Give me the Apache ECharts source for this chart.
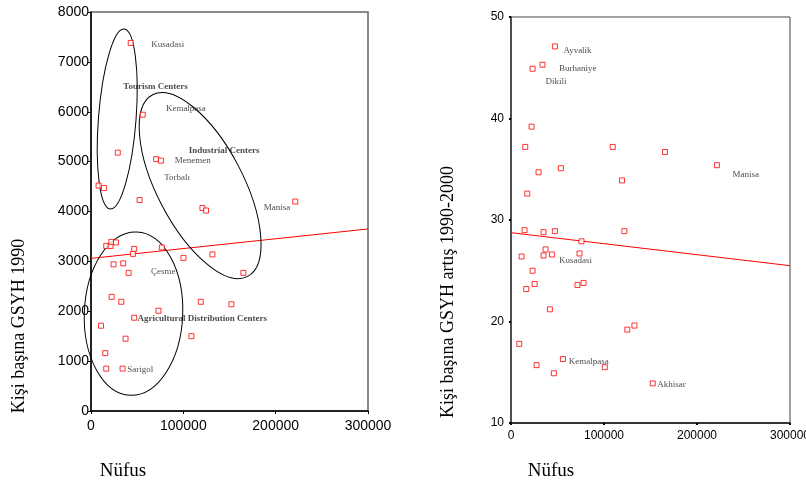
<!DOCTYPE html>
<html><head><meta charset="utf-8">
<script src="https://cdn.jsdelivr.net/npm/echarts@6/dist/echarts.min.js"></script>
<style>html,body{margin:0;padding:0;background:#fff}#c{width:806px;height:485px}</style>
</head><body><div id="c"></div>
<script>
// ---- Left chart: population vs GDP per capita 1990
var leftPop = [43000, 56000, 29000, 70600, 75700, 8200, 14000, 52600, 120700, 124600, 221200,
  16500, 21200, 22000, 27000, 46800, 45400, 76700, 24400, 34900, 40700, 100100, 131500, 165000,
  22300, 32800, 73100, 46800, 118900, 152000, 10800, 37400, 108800, 15500, 16500, 34200];
var leftGdp = [7380, 5940, 5180, 5050, 5020, 4520, 4470, 4230, 4070, 4020, 4200,
  3310, 3310, 3390, 3380, 3250, 3150, 3280, 2940, 2960, 2770, 3070, 3140, 2770,
  2290, 2190, 2010, 1870, 2190, 2140, 1710, 1450, 1500, 1160, 850, 850];
var leftFit = [[0, 3060], [300000, 3650]];
var leftYTicks = [0, 8000, 1000];
var leftXTicks = [0, 300000, 100000];
var leftCityLabels = [['Kusadasi', 65200, 7340], ['Kemalpasa', 81100, 6060], ['Menemen', 90800, 5020],
  ['Torbalı', 79200, 4686], ['Manisa', 187000, 4086], ['Çesme', 64900, 2800], ['Sarigol', 39200, 820]];
var leftGroupLabels = [['Tourism Centers', 34900, 6506], ['Industrial Centers', 105900, 5220],
  ['Agricultural Distribution Centers', 50400, 1846]];
var leftGroupCenters = [[28400, 5854], [118200, 4520], [46050, 1953]];

// ---- Right chart: population vs GDP per capita growth 1990-2000
var rightPop = [47200, 33900, 23200, 22100, 15300, 109400, 165600, 221400, 29600, 53600, 119400,
  17500, 14600, 35000, 47200, 121900, 75800, 37200, 11400, 35000, 44000, 73700, 23200, 25400,
  16400, 71500, 78000, 41800, 125100, 132700, 8900, 55800, 27500, 46100, 100900, 152400];
var rightGrowth = [47.1, 45.3, 44.9, 39.2, 37.2, 37.2, 36.7, 35.4, 34.7, 35.1, 33.9,
  32.6, 29.0, 28.8, 28.9, 28.9, 27.9, 27.1, 26.4, 26.5, 26.6, 26.7, 25.0, 23.7,
  23.2, 23.6, 23.8, 21.2, 19.2, 19.6, 17.8, 16.3, 15.7, 14.9, 15.5, 13.9];
var rightFit = [[0, 28.75], [300000, 25.5]];
var rightYTicks = [10, 50, 10];
var rightXTicks = [0, 300000, 100000];
var rightCityLabels = [['Ayvalik', 56400, 46.71], ['Burhaniye', 51500, 44.91], ['Dikili', 37100, 43.6],
  ['Manisa', 238200, 34.49], ['Kusadasi', 51500, 25.99], ['Kemalpasa', 62200, 16.07], ['Akhisar', 157300, 13.77]];

var xName = 'Nüfus';
var leftYName = 'Kişi başına GSYH 1990';
var rightYName = 'Kişi başına GSYH artış 1990-2000';

function pairs(xs, ys) { return xs.map(function (x, i) { return [x, ys[i]]; }); }
function lab(arr) { return arr.map(function (a) { return { name: a[0], value: [a[1], a[2]] }; }); }
function plain(v) { return String(v); }

var serif = '"Liberation Serif","Times New Roman",serif';
var sans = '"Liberation Sans",Arial,sans-serif';

var chart = echarts.init(document.getElementById('c'), null, { renderer: 'canvas' });

function labelSeries(arr, xi, bold) {
  return {
    type: 'scatter', xAxisIndex: xi, yAxisIndex: xi, data: lab(arr), symbolSize: 0, silent: true, z: 5,
    label: { show: true, position: 'right', distance: 0, formatter: '{b}', fontFamily: serif,
      fontSize: 9, fontWeight: bold ? 'bold' : 'normal', color: '#1a1a1a' }
  };
}
var markStyle = { color: '#fff', borderColor: '#ff0000', borderWidth: 1 };

chart.setOption({
  animation: false,
  grid: [
    { left: 91, top: 12, right: 438, bottom: 74, outerBoundsMode: 'none', containLabel: false,
      show: true, borderColor: '#666', borderWidth: 1.5, backgroundColor: 'transparent' },
    { left: 511, top: 17, right: 16, bottom: 62, outerBoundsMode: 'none', containLabel: false,
      show: true, borderColor: '#444', borderWidth: 1, backgroundColor: 'transparent' }
  ],
  xAxis: [
    { gridIndex: 0, type: 'value', min: leftXTicks[0], max: leftXTicks[1], interval: leftXTicks[2],
      axisLine: { lineStyle: { color: '#000', width: 1.5 } }, axisTick: { length: 3, lineStyle: { color: '#000' } },
      axisLabel: { fontFamily: sans, fontSize: 14, color: '#000', margin: 8, formatter: plain }, splitLine: { show: false } },
    { gridIndex: 1, type: 'value', min: rightXTicks[0], max: rightXTicks[1], interval: rightXTicks[2],
      axisLine: { lineStyle: { color: '#111', width: 1.5 } }, axisTick: { length: 2, lineStyle: { color: '#000', width: 2 } },
      axisLabel: { fontFamily: sans, fontSize: 12, color: '#000', margin: 7, formatter: plain }, splitLine: { show: false } }
  ],
  yAxis: [
    { gridIndex: 0, type: 'value', min: leftYTicks[0], max: leftYTicks[1], interval: leftYTicks[2],
      axisLine: { show: true, lineStyle: { color: '#000', width: 1.5 } }, axisTick: { show: true, length: 3, lineStyle: { color: '#000' } },
      axisLabel: { fontFamily: sans, fontSize: 14, color: '#000', margin: 2, formatter: plain }, splitLine: { show: false } },
    { gridIndex: 1, type: 'value', min: rightYTicks[0], max: rightYTicks[1], interval: rightYTicks[2],
      axisLine: { show: true, lineStyle: { color: '#333', width: 1.5 } }, axisTick: { show: true, length: 2, lineStyle: { color: '#000', width: 2 } },
      axisLabel: { fontFamily: sans, fontSize: 12, color: '#000', margin: 7, formatter: plain }, splitLine: { show: false } }
  ],
  series: [
    { type: 'line', xAxisIndex: 0, yAxisIndex: 0, data: leftFit, showSymbol: false, symbol: 'none',
      lineStyle: { color: '#ff0000', width: 1 }, z: 2 },
    { type: 'scatter', xAxisIndex: 0, yAxisIndex: 0, data: pairs(leftPop, leftGdp), symbol: 'rect', symbolSize: 5,
      itemStyle: markStyle, z: 4 },
    labelSeries(leftCityLabels, 0, false),
    labelSeries(leftGroupLabels, 0, true),
    { type: 'line', xAxisIndex: 1, yAxisIndex: 1, data: rightFit, showSymbol: false, symbol: 'none',
      lineStyle: { color: '#ff0000', width: 1 }, z: 2 },
    { type: 'scatter', xAxisIndex: 1, yAxisIndex: 1, data: pairs(rightPop, rightGrowth), symbol: 'rect', symbolSize: 5,
      itemStyle: markStyle, z: 4 },
    labelSeries(rightCityLabels, 1, false)
  ]
});

// Group ellipses (annotation), centred on data coordinates
var ellShapes = [ { rx: 18.8, ry: 90.3, rot: -4.4 }, { rx: 43, ry: 102.5, rot: 27.6 }, { rx: 49.2, ry: 81.7, rot: -2.3 } ];
var graphics = leftGroupCenters.map(function (c, i) {
  var p = chart.convertToPixel({ gridIndex: 0 }, c);
  var s = ellShapes[i];
  return { type: 'ellipse', x: p[0], y: p[1], rotation: s.rot * Math.PI / 180, silent: true, z: 3,
    shape: { cx: 0, cy: 0, rx: s.rx, ry: s.ry }, style: { fill: 'none', stroke: '#000', lineWidth: 1 } };
});
// axis titles
graphics.push(
  { type: 'text', x: 19, y: 326, rotation: Math.PI / 2, silent: true,
    style: { text: leftYName, font: '18px ' + serif, fill: '#000', textAlign: 'center', textVerticalAlign: 'middle' } },
  { type: 'text', x: 448, y: 292, rotation: Math.PI / 2, silent: true,
    style: { text: rightYName, font: '18px ' + serif, fill: '#000', textAlign: 'center', textVerticalAlign: 'middle' } },
  { type: 'text', x: 123, y: 471, silent: true,
    style: { text: xName, font: '19px ' + serif, fill: '#000', textAlign: 'center', textVerticalAlign: 'middle' } },
  { type: 'text', x: 551, y: 471, silent: true,
    style: { text: xName, font: '19px ' + serif, fill: '#000', textAlign: 'center', textVerticalAlign: 'middle' } }
);
chart.setOption({ graphic: graphics });
</script></body></html>
